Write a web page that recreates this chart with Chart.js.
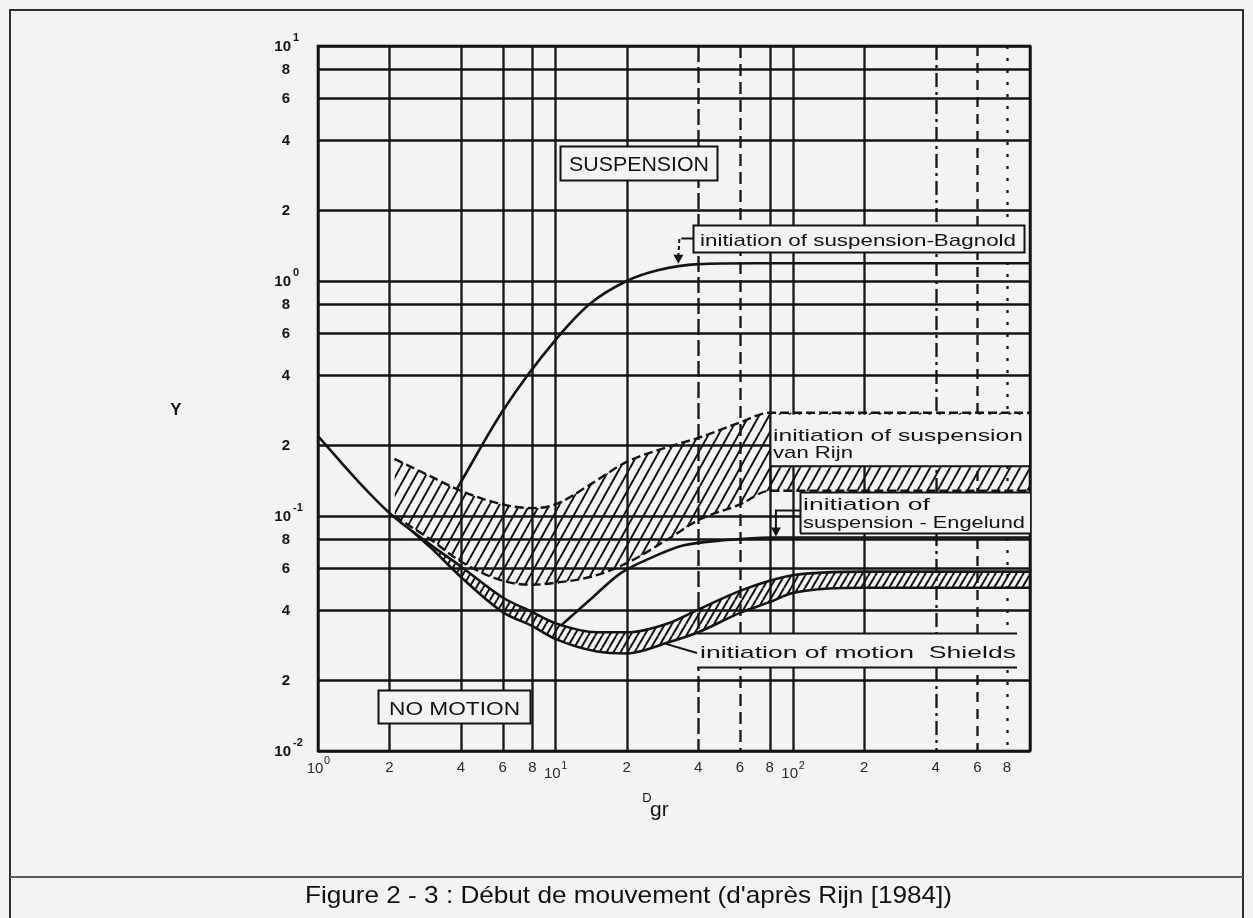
<!DOCTYPE html>
<html>
<head>
<meta charset="utf-8">
<script src="https://cdn.jsdelivr.net/npm/chart.js@4.4.1/dist/chart.umd.min.js"></script>
<style>
  html, body { margin: 0; padding: 0; background: #f3f3f1; }
  #wrap { width: 1253px; height: 918px; position: relative; }
  canvas { display: block; }
</style>
</head>
<body>
<div id="wrap"><canvas id="c" width="1253" height="918"></canvas></div>
<script>
// Critical Y parameter against the dimensionless grain size D_gr (log-log)
const shieldsUpperX = [1, 1.5, 2, 2.5, 3, 4, 6, 8, 10, 15, 20, 30, 40, 60, 80, 100, 200, 1000];
const shieldsUpperY = [0.219, 0.138, 0.103, 0.086, 0.075, 0.061, 0.045, 0.039, 0.035, 0.032, 0.032, 0.035, 0.040, 0.048, 0.053, 0.056, 0.058, 0.058];
const shieldsLowerX = [2.5, 3, 4, 6, 8, 10, 15, 20, 30, 40, 60, 80, 100, 200, 1000];
const shieldsLowerY = [0.086, 0.073, 0.055, 0.039, 0.034, 0.030, 0.0265, 0.026, 0.029, 0.032, 0.0387, 0.043, 0.047, 0.0495, 0.0495];
const vanRijnUpperX = [2.1, 3, 4, 6, 8, 10, 14, 20, 30, 40, 60, 80, 1000];
const vanRijnUpperY = [0.175, 0.147, 0.128, 0.112, 0.108, 0.112, 0.136, 0.170, 0.197, 0.215, 0.250, 0.275, 0.275];
const vanRijnLowerX = [2.1, 3, 4, 6, 8, 10, 14, 20, 30, 40, 60, 80, 1000];
const vanRijnLowerY = [0.100, 0.079, 0.064, 0.053, 0.051, 0.052, 0.055, 0.063, 0.080, 0.096, 0.112, 0.128, 0.128];
const bagnoldX = [3.86, 6, 10, 14, 20, 27, 40, 70, 1000];
const bagnoldY = [0.131, 0.28, 0.56, 0.80, 1.0, 1.11, 1.18, 1.19, 1.19];
const engelundX = [10.5, 14, 18.8, 25, 34.8, 53, 80, 1000];
const engelundY = [0.034, 0.044, 0.057, 0.066, 0.075, 0.079, 0.081, 0.081];

// Grid lines and tick labels (mantissa + exponent of powers of ten)
const xGridValues = [1, 2, 4, 6, 8, 10, 20, 40, 60, 80, 100, 200, 400, 600, 800, 1000];
const xTickText = ['10', '2', '4', '6', '8', '10', '2', '4', '6', '8', '10', '2', '4', '6', '8'];
const xTickExp  = ['0', '', '', '', '', '1', '', '', '', '', '2', '', '', '', ''];
const yGridValues = [0.01, 0.02, 0.04, 0.06, 0.08, 0.1, 0.2, 0.4, 0.6, 0.8, 1, 2, 4, 6, 8, 10];
const yTickText = ['10', '2', '4', '6', '8', '10', '2', '4', '6', '8', '10', '2', '4', '6', '8', '10'];
const yTickExp  = ['-2', '', '', '', '', '-1', '', '', '', '', '0', '', '', '', '', '1'];

const BG = '#f3f3f1';
const INK = '#141414';
const xGridDash = { 40: [16, 5], 60: [12, 6], 400: [14, 5, 3, 5], 600: [10, 7], 800: [3, 9] };

const canvas = document.getElementById('c');
const mainCtx = canvas.getContext('2d');

function hatch(w, h, lw) {
  const t = document.createElement('canvas');
  t.width = w; t.height = h;
  const g = t.getContext('2d');
  g.strokeStyle = INK; g.lineWidth = lw;
  g.beginPath();
  for (const o of [-w, 0, w]) { g.moveTo(o, h); g.lineTo(o + w, 0); }
  g.stroke();
  return mainCtx.createPattern(t, 'repeat');
}
const wideHatch = hatch(10, 18, 2);
const denseHatch = hatch(7, 12, 2);

const pts = (xs, ys) => xs.map((x, i) => ({ x, y: ys[i] }));

function fitText(ctx, text, x, y, width, font) {
  ctx.save();
  ctx.font = font;
  const m = ctx.measureText(text).width;
  ctx.translate(x, y);
  ctx.scale(width / m, 1);
  ctx.textAlign = 'left';
  ctx.textBaseline = 'alphabetic';
  ctx.fillText(text, 0, 0);
  ctx.restore();
}

function line(ctx, pts, dash) {
  ctx.save();
  ctx.setLineDash(dash || []);
  ctx.beginPath();
  ctx.moveTo(pts[0][0], pts[0][1]);
  for (let i = 1; i < pts.length; i++) ctx.lineTo(pts[i][0], pts[i][1]);
  ctx.stroke();
  ctx.restore();
}

function arrowDown(ctx, x, y) {
  ctx.beginPath();
  ctx.moveTo(x - 5, y - 9); ctx.lineTo(x + 5, y - 9); ctx.lineTo(x, y);
  ctx.closePath(); ctx.fill();
}

const backgroundPlugin = {
  id: 'paper',
  beforeDraw(chart) {
    const ctx = chart.ctx;
    ctx.save();
    ctx.fillStyle = BG;
    ctx.fillRect(0, 0, chart.width, chart.height);
    ctx.restore();
  }
};

const gridPlugin = {
  id: 'logGrid',
  beforeDatasetsDraw(chart) {
    const { ctx, chartArea: a, scales: { x, y } } = chart;
    ctx.save();
    ctx.strokeStyle = INK;
    ctx.lineWidth = 2.3;
    yGridValues.forEach(v => {
      const py = Math.round(y.getPixelForValue(v)) + 0.5;
      line(ctx, [[a.left, py], [a.right, py]]);
    });
    xGridValues.forEach(v => {
      const px = Math.round(x.getPixelForValue(v)) + 0.5;
      line(ctx, [[px, a.top], [px, a.bottom]], xGridDash[v]);
    });
    ctx.lineWidth = 2.6;
    ctx.strokeRect(a.left, a.top, a.right - a.left, a.bottom - a.top);
    ctx.restore();
  }
};

const annotationPlugin = {
  id: 'annotations',
  afterDatasetsDraw(chart) {
    const { ctx, chartArea: a, scales: { x, y } } = chart;
    ctx.save();
    ctx.strokeStyle = INK;
    ctx.fillStyle = INK;
    ctx.lineWidth = 2;

    const box = (l, t, w, h, sides) => {
      ctx.fillStyle = BG;
      ctx.fillRect(l, t, w, h);
      ctx.fillStyle = INK;
      if (!sides) { ctx.strokeRect(l + 0.5, t + 0.5, w, h); return; }
      if (sides.includes('t')) line(ctx, [[l, t + 0.5], [l + w, t + 0.5]]);
      if (sides.includes('b')) line(ctx, [[l, t + h + 0.5], [l + w, t + h + 0.5]]);
      if (sides.includes('l')) line(ctx, [[l + 0.5, t], [l + 0.5, t + h]]);
      if (sides.includes('r')) line(ctx, [[l + w + 0.5, t], [l + w + 0.5, t + h]]);
    };

    // SUSPENSION / NO MOTION regions
    box(560, 146, 157, 34);
    fitText(ctx, 'SUSPENSION', 569, 171, 140, '20px "Liberation Sans"');
    box(378, 690, 152, 33);
    fitText(ctx, 'NO MOTION', 389, 715, 131, '18px "Liberation Sans"');

    // Bagnold
    box(693, 225, 331, 27);
    fitText(ctx, 'initiation of suspension-Bagnold', 700, 246, 316, '17px "Liberation Sans"');
    const bx = x.getPixelForValue(33);
    const by = y.getPixelForValue(1.15);
    line(ctx, [[bx + 3, 238.5], [693, 238.5]]);
    line(ctx, [[bx + 1, 239], [bx, by - 10]], [4, 3]);
    arrowDown(ctx, bx, by - 3);

    // van Rijn band label (covers the middle of the band beyond D_gr = 80)
    const rx = Math.round(x.getPixelForValue(80));
    const rTop = y.getPixelForValue(0.275);
    const rBot = y.getPixelForValue(0.128);
    ctx.fillStyle = BG;
    ctx.fillRect(rx + 1, rTop + 2, a.right - rx - 2, 51);
    ctx.fillStyle = INK;
    line(ctx, [[rx, rTop + 53.5], [a.right, rTop + 53.5]]);
    line(ctx, [[rx + 0.5, rTop], [rx + 0.5, rBot]]);
    fitText(ctx, 'initiation of suspension', 773, 441, 250, '17px "Liberation Sans"');
    fitText(ctx, 'van Rijn', 773, 458, 80, '17px "Liberation Sans"');

    // Engelund
    box(800, 492, a.right - 800, 41, 'tlb');
    fitText(ctx, 'initiation of', 803, 510, 127, '17px "Liberation Sans"');
    fitText(ctx, 'suspension - Engelund', 803, 528, 222, '17px "Liberation Sans"');
    const ex = x.getPixelForValue(85);
    const ey = y.getPixelForValue(0.081);
    line(ctx, [[800, 510.5], [ex, 510.5], [ex, ey - 8]]);
    arrowDown(ctx, ex, ey - 1);

    // Shields
    box(697, 633, 320, 34, 'tb');
    fitText(ctx, 'initiation of motion  Shields', 700, 658, 316, '17px "Liberation Sans"');
    line(ctx, [[697, 653], [x.getPixelForValue(29), y.getPixelForValue(0.0295) + 3]]);

    // Tick labels
    ctx.fillStyle = INK;
    ctx.textBaseline = 'middle';
    yGridValues.forEach((v, i) => {
      const py = y.getPixelForValue(v);
      if (yTickExp[i]) {
        ctx.font = 'bold 15px "Liberation Sans"';
        ctx.textAlign = 'right';
        ctx.fillText(yTickText[i], 291, py + 1);
        ctx.font = 'bold 11px "Liberation Sans"';
        ctx.textAlign = 'left';
        ctx.fillText(yTickExp[i], 293, py - 8);
      } else {
        ctx.font = 'bold 15px "Liberation Sans"';
        ctx.textAlign = 'center';
        ctx.fillText(yTickText[i], 286, py + 1);
      }
    });
    ctx.fillStyle = '#2a2a2a';
    xTickText.forEach((t, i) => {
      const px = x.getPixelForValue(xGridValues[i]);
      if (xTickExp[i]) {
        const dy = i === 0 ? 769 : 774;
        ctx.font = '15px "Liberation Sans"';
        ctx.textAlign = 'center';
        ctx.fillText(t, px - 3, dy);
        ctx.font = '11px "Liberation Sans"';
        ctx.textAlign = 'left';
        ctx.fillText(xTickExp[i], px + 6, dy - 8);
      } else {
        ctx.font = '15px "Liberation Sans"';
        ctx.textAlign = 'center';
        ctx.fillText(t, px, 768);
      }
    });

    // Axis titles
    ctx.fillStyle = INK;
    ctx.font = 'bold 17px "Liberation Sans"';
    ctx.textAlign = 'center';
    ctx.fillText('Y', 176, 410);
    ctx.font = '13px "Liberation Sans"';
    ctx.fillText('D', 647, 798);
    ctx.font = '21px "Liberation Sans"';
    ctx.textAlign = 'left';
    ctx.fillText('gr', 650, 810);

    // Frame and caption
    ctx.strokeStyle = '#2e2e2e';
    ctx.lineWidth = 2;
    ctx.strokeRect(10, 10, 1233, 930);
    ctx.strokeStyle = '#5a5a5a';
    line(ctx, [[10, 877], [1243, 877]]);
    ctx.fillStyle = '#111';
    fitText(ctx, "Figure 2 - 3 : Début de mouvement (d'après Rijn [1984])", 305, 903, 647, '24px "Liberation Sans"');
    ctx.restore();
  }
};

const lineStyle = { borderColor: INK, pointRadius: 0, cubicInterpolationMode: 'monotone' };

new Chart(canvas, {
  type: 'line',
  data: {
    datasets: [
      { ...lineStyle, label: 'van Rijn (upper)', data: pts(vanRijnUpperX, vanRijnUpperY), borderWidth: 2.4, borderDash: [9, 4], fill: false },
      { ...lineStyle, label: 'van Rijn (lower)', data: pts(vanRijnLowerX, vanRijnLowerY), borderWidth: 2.4, borderDash: [9, 4], fill: '-1', backgroundColor: wideHatch },
      { ...lineStyle, label: 'Shields (upper)', data: pts(shieldsUpperX, shieldsUpperY), borderWidth: 2.6, fill: false },
      { ...lineStyle, label: 'Shields (lower)', data: pts(shieldsLowerX, shieldsLowerY), borderWidth: 2.6, fill: '-1', backgroundColor: denseHatch },
      { ...lineStyle, label: 'Bagnold', data: pts(bagnoldX, bagnoldY), borderWidth: 2.6, fill: false },
      { ...lineStyle, label: 'Engelund', data: pts(engelundX, engelundY), borderWidth: 2.6, fill: false }
    ]
  },
  options: {
    responsive: false,
    animation: false,
    devicePixelRatio: 1,
    layout: { padding: { left: 318, right: 223, top: 46, bottom: 167 } },
    scales: {
      x: { type: 'logarithmic', min: 1, max: 1000, display: false },
      y: { type: 'logarithmic', min: 0.01, max: 10, display: false }
    },
    plugins: { legend: { display: false }, tooltip: { enabled: false } }
  },
  plugins: [backgroundPlugin, gridPlugin, annotationPlugin]
});
</script>
</body>
</html>
